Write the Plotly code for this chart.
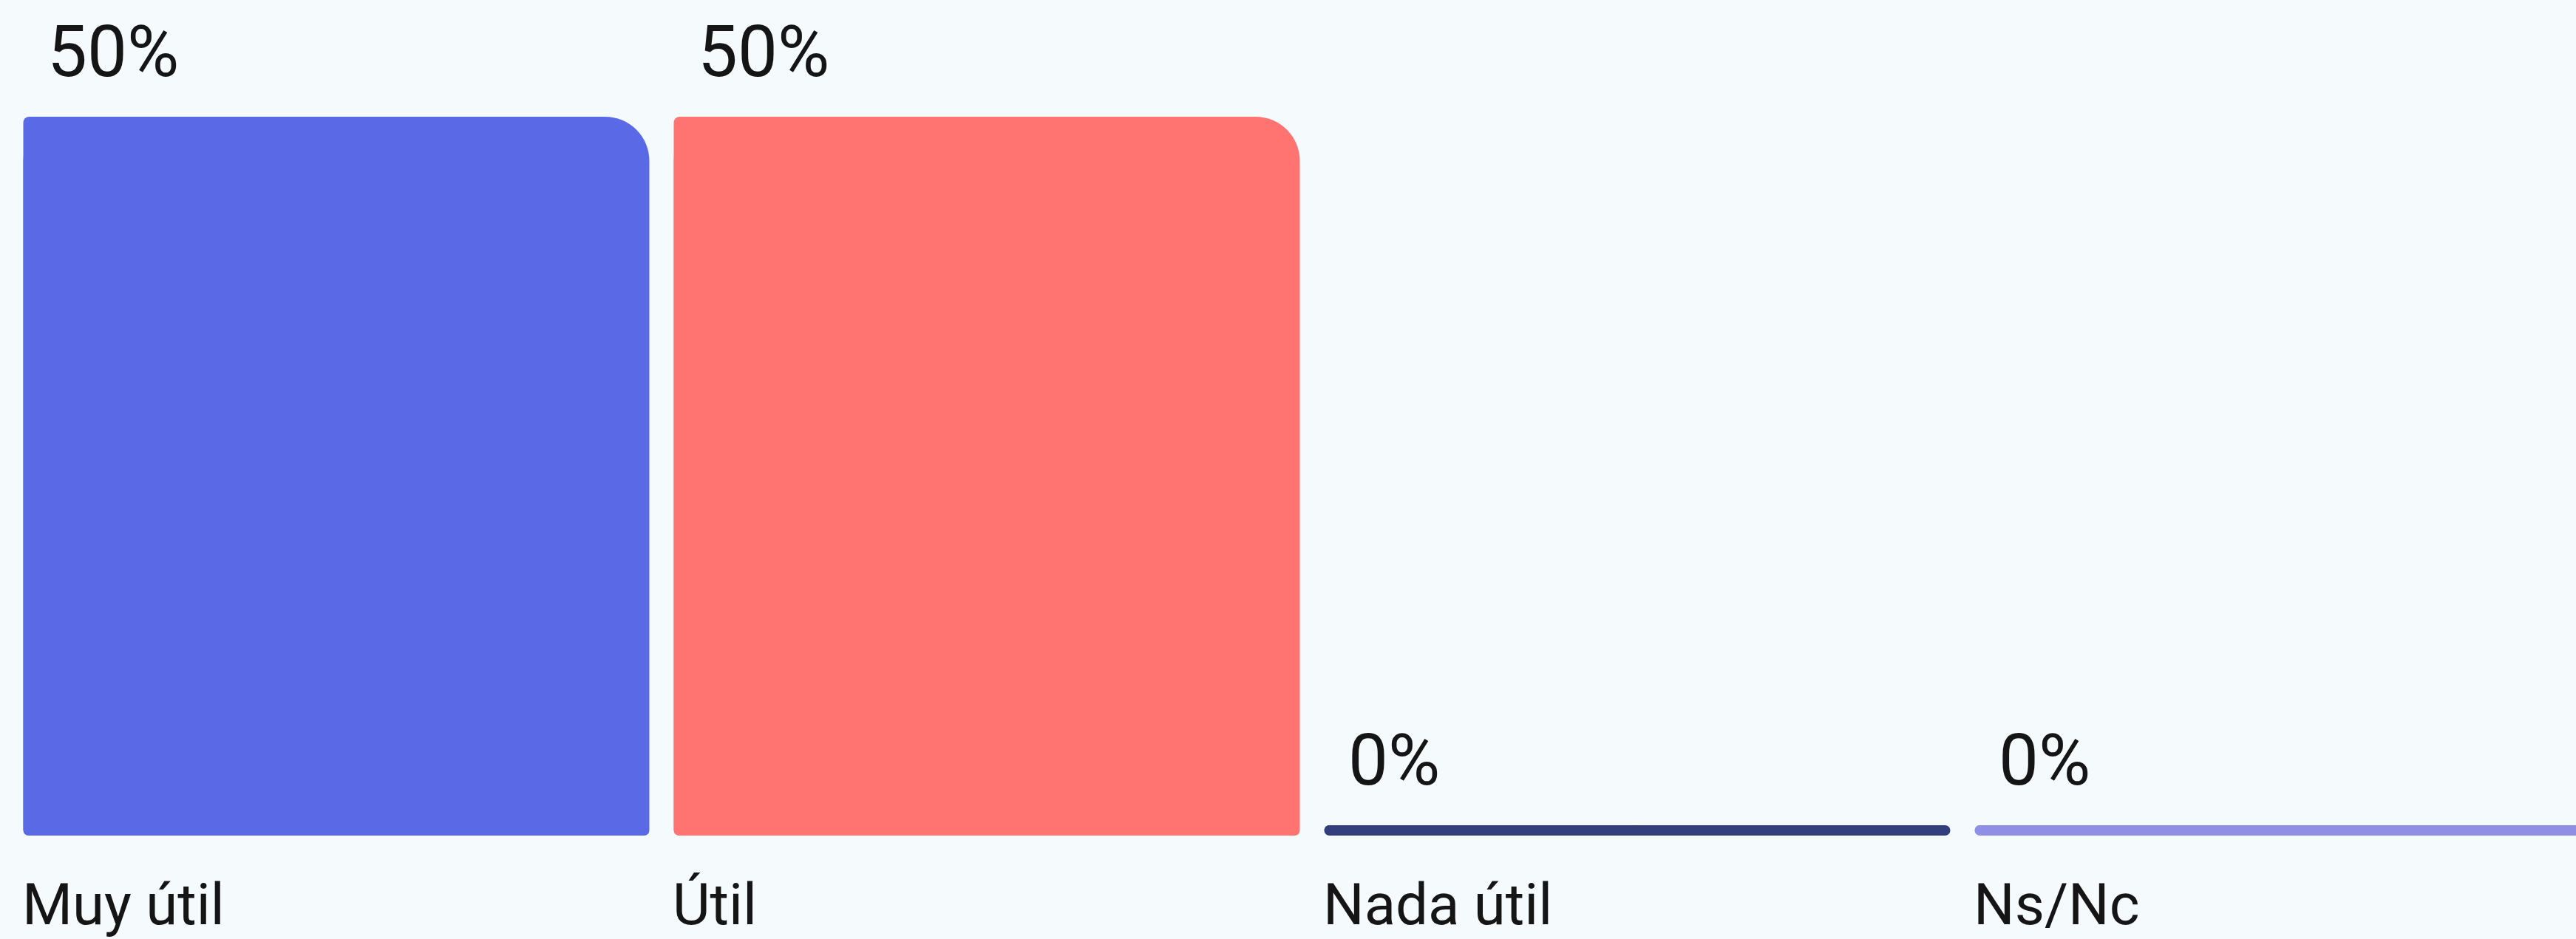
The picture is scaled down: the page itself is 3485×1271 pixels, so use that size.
import plotly.graph_objects as go

categories = ["Muy útil", "Útil", "Nada útil", "Ns/Nc"]
values = [50, 50, 0, 0]
value_labels = ["50%", "50%", "0%", "0%"]
colors = ["#5A6AE6", "#FF7471", "#333E7C", "#8F8FE8"]

W, H = 3485, 1271
BG = "#F5FAFD"
TXT = "#151515"
FONT = "Roboto"

bar_w = 0.9625
k = (1117 - 158) / 50.0     # px per percentage point
half = 7 / k                 # half of the visual minimum bar thickness
y_top = 1124 / k
x_idx = list(range(len(categories)))
shown = [v + half for v in values]
lower = [-half] * len(values)

fig = go.Figure()
common = dict(x=x_idx, hoverinfo="skip", showlegend=False)
# upper part: large top-right radius
fig.add_trace(go.Bar(y=shown, width=bar_w, offset=-bar_w / 2,
                     marker=dict(color=colors, cornerradius=60, line=dict(width=0)), **common))
# upper left half: small top-left radius
fig.add_trace(go.Bar(y=shown, width=bar_w / 2, offset=-bar_w / 2,
                     marker=dict(color=colors, cornerradius=8, line=dict(width=0)), **common))
# lower part: small bottom radius
fig.add_trace(go.Bar(y=lower, width=bar_w, offset=-bar_w / 2,
                     marker=dict(color=colors, cornerradius=7, line=dict(width=0)), **common))

for i, (cat, v, lab) in enumerate(zip(categories, shown, value_labels)):
    fig.add_annotation(
        x=i - bar_w / 2, y=v, xref="x", yref="y",
        text=lab, showarrow=False, xanchor="left", yanchor="bottom",
        xshift=30, yshift=30,
        font=dict(family=FONT, size=96, color=TXT),
    )
    fig.add_annotation(
        x=i - bar_w / 2, y=0, xref="x", yref="paper",
        text=cat, showarrow=False, xanchor="left", yanchor="top",
        xshift=-4, yshift=-46,
        font=dict(family=FONT, size=78, color=TXT),
    )

fig.update_layout(
    width=W, height=H,
    margin=dict(l=15, r=0, t=0, b=140),
    paper_bgcolor=BG, plot_bgcolor=BG,
    barmode="overlay",
    xaxis=dict(range=[-0.5, -0.5 + 3470 / 880], visible=False, fixedrange=True),
    yaxis=dict(range=[-half, y_top], visible=False, fixedrange=True),
)

fig.write_html(
    "out.html",
    config={"displayModeBar": False},
    post_script="document.body.style.margin='0';document.body.style.overflow='hidden';document.body.style.background='" + BG + "';",
)
